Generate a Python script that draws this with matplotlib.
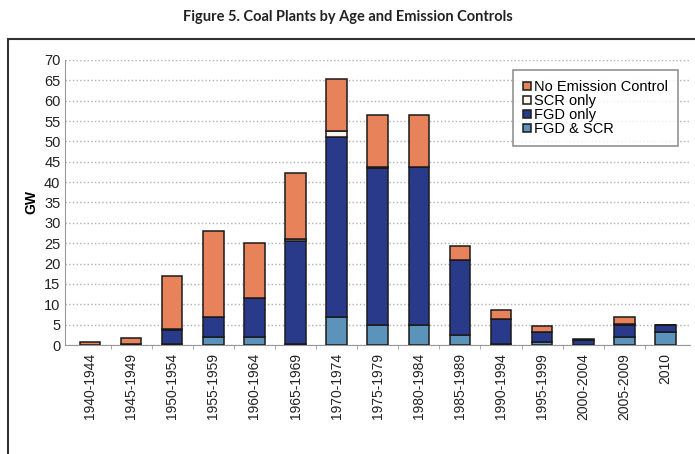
import matplotlib.pyplot as plt
import matplotlib.patches as mpatches
import numpy as np

plt.rcParams['font.family'] = ['Liberation Sans', 'DejaVu Sans']

# Capacity (GW) by plant age and emission controls
periods = ['1940-1944', '1945-1949', '1950-1954', '1955-1959', '1960-1964',
           '1965-1969', '1970-1974', '1975-1979', '1980-1984', '1985-1989',
           '1990-1994', '1995-1999', '2000-2004', '2005-2009', '2010']
fgd_scr = [0, 0, 0.3, 2.0, 2.0, 0.3, 6.8, 5.0, 4.8, 2.5, 0.3, 0.7, 0, 2.0, 3.2]
fgd_only = [0, 0.2, 3.5, 5.0, 9.5, 25.2, 44.2, 38.5, 39.0, 18.3, 6.2, 2.5, 1.2, 3.0, 1.8]
scr_only = [0, 0, 0.1, 0, 0, 0.5, 1.5, 0.2, 0, 0.2, 0, 0, 0, 0.2, 0]
no_control = [0.7, 1.5, 13.1, 21.0, 13.5, 16.3, 12.8, 12.8, 12.7, 3.3, 2.0, 1.5, 0.3, 1.6, 0]

series = [
    ('FGD & SCR', fgd_scr, '#5b93bb'),
    ('FGD only', fgd_only, '#2a3a8a'),
    ('SCR only', scr_only, '#fbf4ee'),
    ('No Emission Control', no_control, '#e8825a'),
]

fig = plt.figure(figsize=(6.95, 4.54), dpi=100)
ax = fig.add_axes([0.094, 0.24, 0.899, 0.628])

x = np.arange(len(periods))
bottom = np.zeros(len(periods))
for name, vals, color in series:
    vals = np.array(vals)
    ax.bar(x, vals, width=0.5, bottom=bottom, color=color,
           edgecolor='#1a1a1a', linewidth=1.1, label=name, zorder=3)
    bottom += vals

ax.set_ylim(0, 70)
ax.set_yticks(range(0, 71, 5))
ax.set_xlim(-0.6, len(periods) - 0.4)
ax.set_xticks(x)
ax.set_xticklabels(periods, rotation=90, fontsize=10, color='#222222')
ax.tick_params(axis='y', labelsize=10.5, length=0, colors='#222222')
ax.tick_params(axis='x', length=0, pad=6)
# small minor ticks between the categories
ax.set_xticks(x[:-1] + 0.5, minor=True)
ax.tick_params(axis='x', which='minor', length=3, color='#999999', direction='out')
ax.set_ylabel('GW', fontsize=10, fontweight='bold', labelpad=4)

ax.grid(axis='y', linestyle=':', color='#b0b0b0', linewidth=1, zorder=0)
for side in ['top', 'right']:
    ax.spines[side].set_visible(False)
ax.spines['left'].set_color('#999999')
ax.spines['bottom'].set_color('#999999')

# legend in the same order as the stack, top to bottom
handles, labels = ax.get_legend_handles_labels()
leg = ax.legend(handles[::-1], labels[::-1], loc='upper right',
                bbox_to_anchor=(0.985, 0.975), fontsize=10.5, frameon=True,
                fancybox=False, handlelength=0.55, handleheight=0.55,
                handletextpad=0.15, labelspacing=0.0, borderpad=0.7,
                borderaxespad=0.2)
leg.get_frame().set_edgecolor('#777777')
leg.get_frame().set_linewidth(1.2)

# outer border around the chart area
fig.patches.append(mpatches.Rectangle((0.012, -0.01), 0.995, 0.924,
                                      transform=fig.transFigure, fill=False,
                                      edgecolor='#333333', linewidth=1.5))

fig.text(0.5, 0.962, 'Figure 5. Coal Plants by Age and Emission Controls',
         ha='center', va='center', fontsize=10.5, fontweight='bold',
         color='#222222', family='Lato')

fig.savefig('out.png', dpi=100)
